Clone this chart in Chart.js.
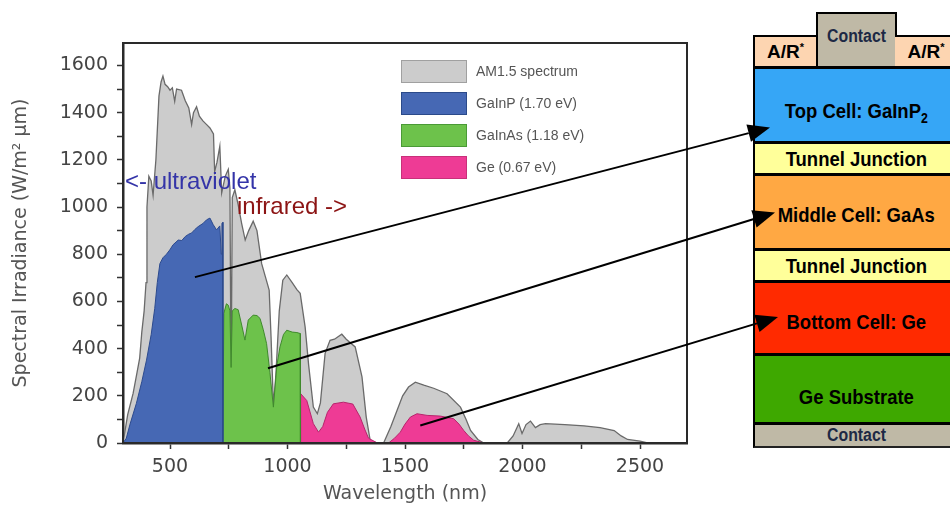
<!DOCTYPE html>
<html>
<head>
<meta charset="utf-8">
<script src="https://cdn.jsdelivr.net/npm/chart.js@4.4.0/dist/chart.umd.min.js"></script>
<style>
body { margin: 0; background: #fff; }
#wrap { position: relative; width: 950px; height: 515px; overflow: hidden; }
#chart { position: absolute; left: 0; top: 0; z-index: 2; }
.note { position: absolute; font: 24px "Liberation Sans", Arial, sans-serif; white-space: nowrap; z-index: 3; }
#legend { position: absolute; left: 401px; top: 55px; z-index: 3; font: 14px "Liberation Sans", Arial, sans-serif; color: #555; }
#legend .row { display: flex; align-items: center; height: 32px; }
#legend .sw { width: 66px; height: 23px; box-sizing: border-box; border: 1px solid; margin-right: 9px; }
.layer { position: absolute; left: 753px; width: 204px; box-sizing: border-box; border-left: 2px solid #000; border-top: 3px solid #000;
  display: flex; align-items: center; justify-content: center; font: bold 21px "Liberation Sans", Arial, sans-serif; color: #000; z-index: 1; }
.layer span { display: inline-block; transform: scaleX(0.88); white-space: nowrap; }
.small { font-size: 18px; }
.ar { font-size: 19px; }
.ar span { transform: none; }
</style>
</head>
<body>
<div id="wrap">
  <!-- cell stack diagram -->
  <div class="layer ar" style="left:753px;width:63px;top:35px;height:32px;border-top-width:2px;background:#fdd5b1"><span>A/R<sup style="font-size:11px">*</sup></span></div>
  <div class="layer small" style="left:816px;width:81px;top:12px;height:55px;border-top-width:2px;border-right:2px solid #000;background:#bfb9a6;color:#1d2945;align-items:flex-start;padding-top:12px"><span>Contact</span></div>
  <div class="layer ar" style="left:895px;width:62px;top:35px;height:32px;border-top-width:2px;border-left:none;background:#fdd5b1"><span>A/R<sup style="font-size:11px">*</sup></span></div>
  <div class="layer" id="topCell" style="top:66px;height:76px;background:#36a6f6;padding-top:14px"><span>Top Cell: GaInP<sub style="font-size:14px">2</sub></span></div>
  <div class="layer" style="top:141px;height:33px;background:#ffff9a"><span>Tunnel Junction</span></div>
  <div class="layer" id="midCell" style="top:173px;height:76px;background:#ffa843;padding-top:4px"><span>Middle Cell: GaAs</span></div>
  <div class="layer" style="top:248px;height:33px;background:#ffff9a"><span>Tunnel Junction</span></div>
  <div class="layer" id="botCell" style="top:280px;height:74px;background:#ff2a00;padding-top:6px"><span>Bottom Cell: Ge</span></div>
  <div class="layer" style="top:353px;height:70px;background:#3ea800;padding-top:14px"><span>Ge Substrate</span></div>
  <div class="layer small" style="top:422px;height:26px;background:#bfb9a6;color:#1d2945;border-bottom:2px solid #222"><span>Contact</span></div>

  <canvas id="chart" width="950" height="515"></canvas>

  <div class="note" style="left:125px;top:167px;color:#3434a8">&lt;- ultraviolet</div>
  <div class="note" style="left:237px;top:192px;color:#8c1414">infrared -&gt;</div>

  <div id="legend">
    <div class="row"><div class="sw" style="background:#cccccc;border-color:#a0a0a0"></div>AM1.5 spectrum</div>
    <div class="row"><div class="sw" style="background:#4668b4;border-color:#2b4a8a"></div>GaInP (1.70 eV)</div>
    <div class="row"><div class="sw" style="background:#6dc24b;border-color:#4a9a36"></div>GaInAs (1.18 eV)</div>
    <div class="row"><div class="sw" style="background:#ee3b95;border-color:#c8307a"></div>Ge (0.67 eV)</div>
  </div>
</div>

<script>
// AM1.5 spectrum (W/m2 um)
const amNm = [300, 320, 343, 360, 371, 380, 390, 398, 402, 410, 420, 428, 440, 453, 462, 470, 479, 490, 500, 510,
  520, 528, 549, 565, 580, 592, 600, 613, 625, 640, 655, 670, 685, 690, 700, 712, 720, 735, 748, 755,
  760, 765, 776, 790, 805, 820, 835, 854, 870, 890, 910, 922, 930, 940, 950, 965, 980, 997, 1020, 1040,
  1054, 1075, 1090, 1110, 1127, 1140, 1160, 1181, 1200, 1231, 1250, 1288, 1317, 1335, 1352, 1380, 1409, 1440, 1466, 1490,
  1515, 1544, 1580, 1622, 1679, 1736, 1760, 1779, 1810, 1835, 1935, 1960, 1984, 1998, 2015, 2034, 2055, 2075, 2098, 2180,
  2262, 2330, 2390, 2420, 2447, 2500, 2532];
const amVal = [0, 120, 210, 300, 360, 470, 560, 680, 1000, 1130, 1110, 1050, 1200, 1470, 1530, 1555, 1520, 1510, 1495, 1505,
  1448, 1500, 1495, 1450, 1420, 1350, 1400, 1425, 1385, 1365, 1350, 1335, 1310, 1150, 1190, 1257, 1060, 1130, 1160, 1080,
  240, 1040, 1073, 1010, 930, 860, 900, 940, 900, 760, 690, 648, 450, 159, 280, 560, 690, 712, 680, 650,
  634, 492, 330, 152, 124, 170, 380, 435, 440, 461, 440, 407, 280, 110, 10, 0, 0, 70, 138, 200,
  237, 258, 245, 232, 209, 152, 100, 53, 15, 0, 0, 30, 82, 40, 78, 93, 65, 78, 82, 78,
  73, 65, 53, 30, 15, 8, 0];

// GaInP top cell share
const gainpNm = [300, 314, 330, 357, 380, 400, 420, 435, 446, 457, 470, 485, 499, 513, 535, 550, 565, 580, 592, 606,
  620, 640, 656, 670, 684, 698, 712, 718, 721, 725, 725];
const gainpVal = [0, 20, 80, 168, 260, 351, 460, 570, 680, 760, 785, 800, 818, 840, 860, 858, 875, 885, 890, 905,
  917, 930, 946, 953, 925, 903, 920, 800, 930, 935, 0];

// GaInAs middle cell share
const gainasNm = [725, 729, 740, 748, 755, 760, 765, 776, 790, 805, 819, 833, 854, 870, 883, 897, 911, 925, 940, 955,
  968, 983, 997, 1020, 1040, 1054, 1055];
const gainasVal = [0, 549, 590, 584, 560, 320, 560, 570, 565, 500, 436, 521, 542, 540, 528, 480, 421, 300, 152, 330,
  407, 460, 478, 470, 468, 464, 0];

// Ge bottom cell share
const geNm = [1055, 1056, 1082, 1110, 1132, 1150, 1170, 1195, 1238, 1278, 1309, 1330, 1345, 1383, 1430, 1455, 1480, 1500, 1523, 1551,
  1594, 1651, 1707, 1730, 1750, 1770, 1792, 1835];
const geVal = [0, 209, 180, 82, 46, 70, 130, 166, 173, 165, 110, 55, 20, 0, 0, 20, 46, 80, 110, 124,
  117, 114, 103, 80, 53, 30, 12, 0];

// axis ticks (minor ticks carry no label)
const xTicks = [500, 750, 1000, 1250, 1500, 1750, 2000, 2250, 2500];
const xLabels = [500, 1000, 1500, 2000, 2500];
const yTicks = [0, 100, 200, 300, 400, 500, 600, 700, 800, 900, 1000, 1100, 1200, 1300, 1400, 1500, 1600];
const yLabels = [0, 200, 400, 600, 800, 1000, 1200, 1400, 1600];

// arrows: start point in data units, end on a layer of the stack
const arrowNm = [606, 917, 1565];
const arrowVal = [703, 317, 74];
const arrowTarget = ['topCell', 'midCell', 'botCell'];

function toPoints(xs, ys) {
  return xs.map((x, i) => ({ x: x, y: ys[i] }));
}

const tipOffset = [{ dx: 17, fy: 0.81 }, { dx: 22, fy: 0.52 }, { dx: 25, fy: 0.5 }];

const arrowPlugin = {
  id: 'arrows',
  afterDraw(chart) {
    const ctx = chart.ctx;
    const xs = chart.scales.x, ys = chart.scales.y;
    const wrap = document.getElementById('wrap').getBoundingClientRect();
    ctx.save();
    ctx.strokeStyle = '#000';
    ctx.fillStyle = '#000';
    ctx.lineWidth = 2;
    arrowNm.forEach((nm, i) => {
      const x0 = xs.getPixelForValue(nm);
      const y0 = ys.getPixelForValue(arrowVal[i]);
      const r = document.getElementById(arrowTarget[i]).getBoundingClientRect();
      const x1 = r.left - wrap.left + tipOffset[i].dx;
      const y1 = r.top - wrap.top + r.height * tipOffset[i].fy;
      const ang = Math.atan2(y1 - y0, x1 - x0);
      const len = 22, half = 9;
      const bx = x1 - len * Math.cos(ang), by = y1 - len * Math.sin(ang);
      ctx.beginPath();
      ctx.moveTo(x0, y0);
      ctx.lineTo(bx, by);
      ctx.stroke();
      ctx.beginPath();
      ctx.moveTo(x1, y1);
      ctx.lineTo(bx + half * Math.sin(ang), by - half * Math.cos(ang));
      ctx.lineTo(bx - half * Math.sin(ang), by + half * Math.cos(ang));
      ctx.closePath();
      ctx.fill();
    });
    ctx.restore();
  }
};

// frame around the plot area (top and right sides)
const framePlugin = {
  id: 'frame',
  afterDatasetsDraw(chart) {
    const { ctx, chartArea: a } = chart;
    ctx.save();
    ctx.strokeStyle = '#2a2a2a';
    ctx.lineWidth = 2;
    ctx.strokeRect(a.left, a.top, a.right - a.left, a.bottom - a.top);
    ctx.restore();
  }
};

const axisFont = { family: 'DejaVu Sans', size: 19 };

new Chart(document.getElementById('chart'), {
  type: 'line',
  data: {
    datasets: [
      { label: 'GaInP (1.70 eV)', data: toPoints(gainpNm, gainpVal), backgroundColor: '#4668b4', borderColor: '#2c4a8e', borderWidth: 1, fill: 'origin', order: 0 },
      { label: 'GaInAs (1.18 eV)', data: toPoints(gainasNm, gainasVal), backgroundColor: '#6dc24b', borderColor: '#3f8a2c', borderWidth: 1, fill: 'origin', order: 0 },
      { label: 'Ge (0.67 eV)', data: toPoints(geNm, geVal), backgroundColor: '#ee3b95', borderColor: '#b8246c', borderWidth: 1, fill: 'origin', order: 0 },
      { label: 'AM1.5 spectrum', data: toPoints(amNm, amVal), backgroundColor: '#cccccc', borderColor: '#6a6a6a', borderWidth: 1.3, fill: 'origin', order: 1 }
    ]
  },
  options: {
    responsive: false,
    animation: false,
    devicePixelRatio: 1,
    elements: { point: { radius: 0 }, line: { tension: 0 } },
    layout: { padding: { top: 43, right: 263, left: 0, bottom: 0 } },
    plugins: { legend: { display: false }, tooltip: { enabled: false } },
    scales: {
      x: {
        type: 'linear',
        min: 300,
        max: 2700,
        afterFit: s => { s.height = 72; },
        afterBuildTicks: s => { s.ticks = xTicks.map(v => ({ value: v })); },
        ticks: {
          autoSkip: false,
          maxRotation: 0,
          padding: 7,
          color: '#444',
          font: axisFont,
          callback: v => (xLabels.includes(v) ? v : '')
        },
        grid: { drawOnChartArea: false, tickLength: 6, tickColor: '#333', tickWidth: 1.5 },
        border: { color: '#2a2a2a', width: 2.5 },
        title: { display: true, text: 'Wavelength (nm)', color: '#555', font: axisFont, padding: { top: 0, bottom: 10 } }
      },
      y: {
        min: 0,
        max: 1695,
        afterFit: s => { s.width = 123; },
        afterBuildTicks: s => { s.ticks = yTicks.map(v => ({ value: v })); },
        ticks: {
          autoSkip: false,
          padding: 9,
          color: '#444',
          font: axisFont,
          callback: v => (yLabels.includes(v) ? v : '')
        },
        grid: { drawOnChartArea: false, tickLength: 6, tickColor: '#333', tickWidth: 1.5 },
        border: { color: '#2a2a2a', width: 2.5 },
        title: { display: true, text: 'Spectral Irradiance (W/m\u00b2 \u03bcm)', color: '#555', font: axisFont, padding: { top: 10, bottom: 0 } }
      }
    }
  },
  plugins: [framePlugin, arrowPlugin]
});
</script>
</body>
</html>
